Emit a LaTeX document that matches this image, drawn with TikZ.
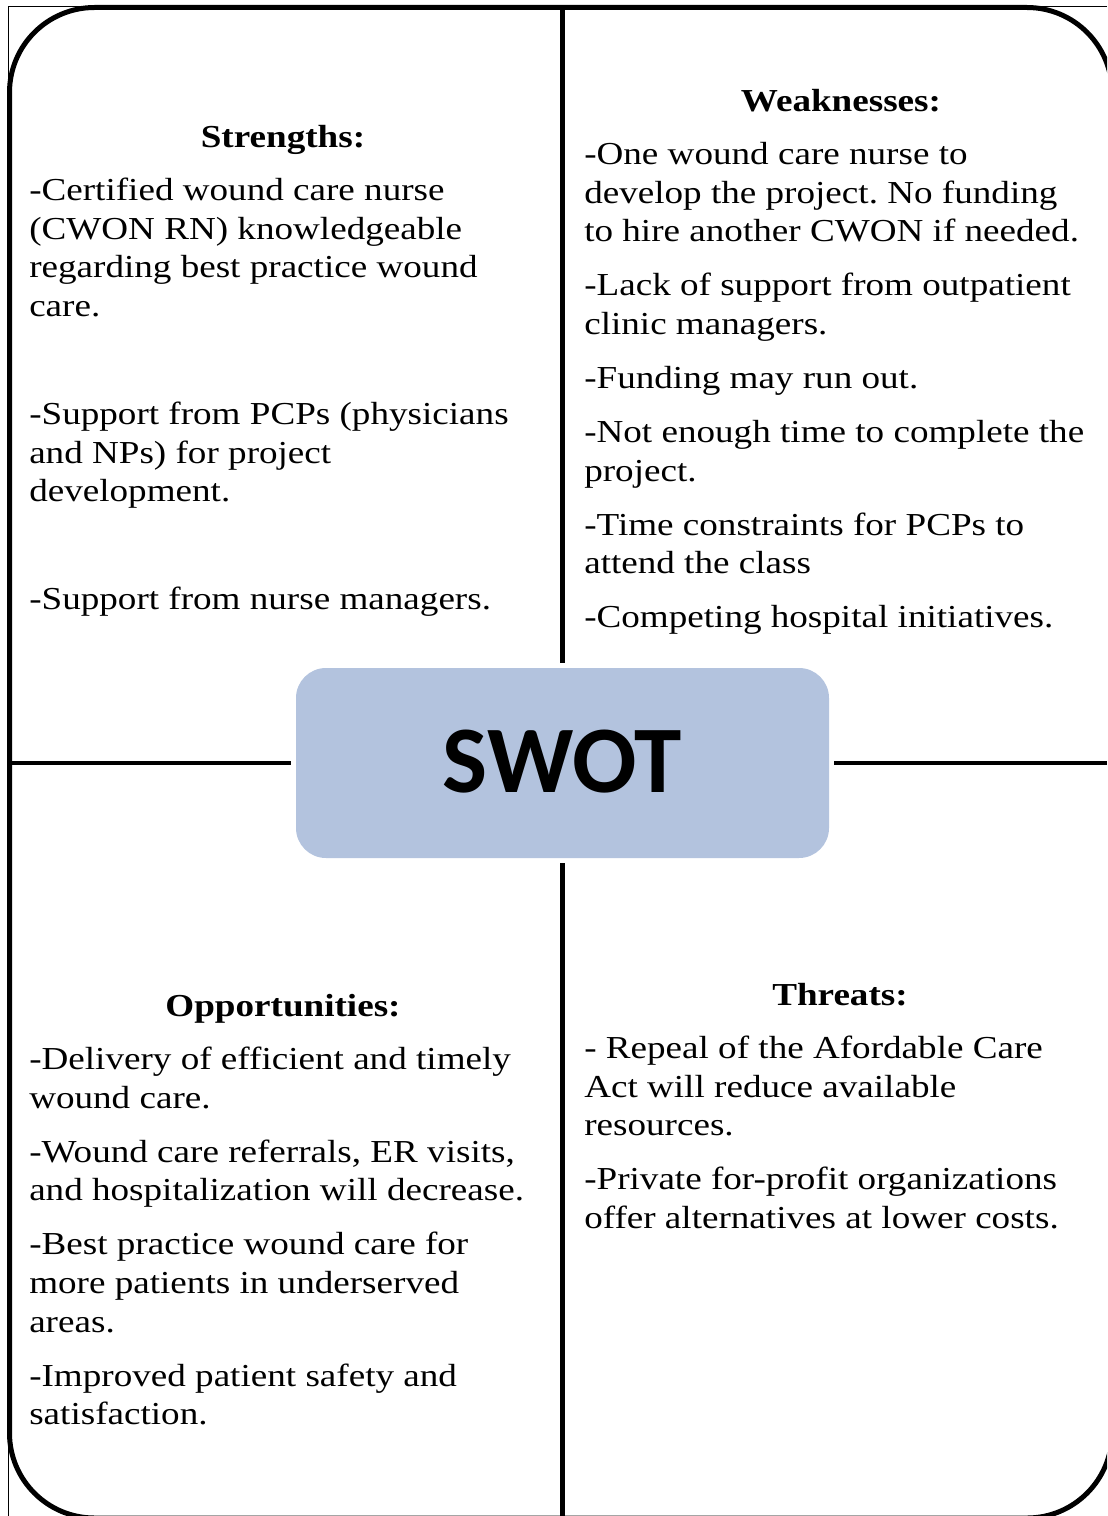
\documentclass[tikz,border=0pt]{standalone}
\usepackage{fontspec}
\setmainfont{Liberation Serif}[FakeStretch=1.16]
\newfontfamily\swotfont{Carlito}
\usetikzlibrary{positioning,calc}
\definecolor{SwotBlue}{HTML}{B3C3DE}
\frenchspacing

\begin{document}
\begin{tikzpicture}[
  x=0.75pt, y=-0.75pt,
  frame/.style={line width=3.75pt, rounded corners=63.75pt},
  thinframe/.style={line width=1.2pt},
  divider/.style={line width=3.6pt},
  head/.style={anchor=base, inner sep=0pt, font=\fontsize{24}{29}\selectfont\bfseries},
  body/.style={anchor=north west, inner sep=0pt, align=left,
               font=\fontsize{24}{29}\selectfont},
  centre/.style={fill=SwotBlue, rounded corners=22.5pt, minimum width=399.75pt,
                 minimum height=142.5pt, inner sep=0pt,
                 font=\swotfont\bfseries\fontsize{71.5}{80}\selectfont}
]
\useasboundingbox (0,0) rectangle (1107,1516);

% outer frame, cut by the page edge
\begin{scope}
  \clip (0,0) rectangle (1107,1516);
  \draw[frame] (9.5,7.5) rectangle (1112,1518);
\end{scope}
\draw[thinframe] (1107,6.5) -- (8.5,6.5) -- (8.5,1516);

\node[centre] (swot) at (562.5,763) {\raisebox{2pt}{SWOT}};

\coordinate (ntop)   at (562.5,7.5);
\coordinate (nbot)   at (562.5,1516);
\coordinate (wleft)  at (9.5,763);
\coordinate (eright) at (1107,763);
\draw[divider] ($(swot.north)+(0,-5)$) -- (ntop);
\draw[divider] ($(swot.south)+(0,5)$)  -- (nbot);
\draw[divider] ($(swot.west)+(-5,0)$)  -- (wleft);
\draw[divider] ($(swot.east)+(5,0)$)   -- (eright);

\node[head] (shead) at (283,147)  {Strengths:};
\node[head] (whead) at (841,112)  {Weaknesses:};
\node[head] (ohead) at (283,1016) {Opportunities:};
\node[head] (thead) at (840,1005) {Threats:};

\node[body] (sbody) at (29,173) {\strut-Certified wound care nurse\\
  (CWON RN) knowledgeable\\
  regarding best practice wound\\
  care.\\[52pt]
  -Support from PCPs (physicians\\
  and NPs) for project\\
  development.\\[52pt]
  -Support from nurse managers.};

\node[body] (wbody) at (584,137) {\strut-One wound care nurse to\\
  develop the project. No funding\\
  to hire another CWON if needed.\\[11.5pt]
  -Lack of support from outpatient\\
  clinic managers.\\[11.5pt]
  -Funding may run out.\\[11.5pt]
  -Not enough time to complete the\\
  project.\\[11.5pt]
  -Time constraints for PCPs to\\
  attend the class\\[11.5pt]
  -Competing hospital initiatives.};

\node[body] (obody) at (29,1042) {\strut-Delivery of efficient and timely\\
  wound care.\\[11.5pt]
  -Wound care referrals, ER visits,\\
  and hospitalization will decrease.\\[11.5pt]
  -Best practice wound care for\\
  more patients in underserved\\
  areas.\\[11.5pt]
  -Improved patient safety and\\
  satisfaction.};

\node[body] (tbody) at (584,1031) {\strut- Repeal of the Afordable Care\\
  Act will reduce available\\
  resources.\\[11.5pt]
  -Private for-profit organizations\\
  offer alternatives at lower costs.};
\end{tikzpicture}
\end{document}
